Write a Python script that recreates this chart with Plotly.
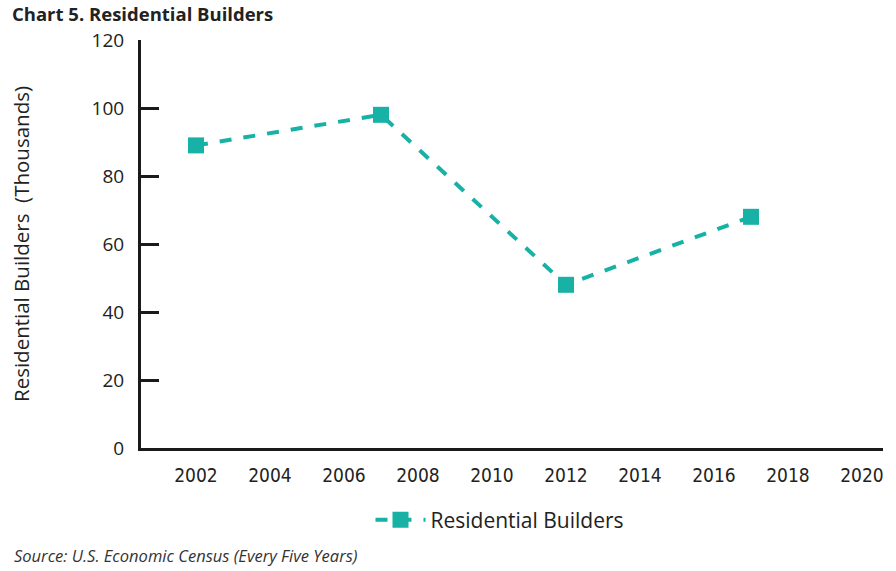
import plotly.graph_objects as go

years = [2002, 2007, 2012, 2017]
builders = [89, 98, 48, 68]
x_ticks = [2002, 2004, 2006, 2008, 2010, 2012, 2014, 2016, 2018, 2020]
y_ticks = [0, 20, 40, 60, 80, 100, 120]

teal = "#17B1A6"
W, H = 896, 571
L, R, T, B = 141, 13, 40, 123
pw, ph = W - L - R, H - T - B
FONT = "Open Sans"

fig = go.Figure()
fig.add_trace(go.Scatter(
    x=years, y=builders, mode="lines+markers", name="Residential Builders",
    line=dict(color=teal, width=4, dash="dash"),
    marker=dict(symbol="square", size=16, color=teal),
))

fig.update_layout(
    width=W, height=H,
    margin=dict(l=L, r=R, t=T, b=B),
    plot_bgcolor="white", paper_bgcolor="white",
    showlegend=True,
    legend=dict(orientation="h", x=(500 - L) / pw, xanchor="center",
                y=(H - B - 520) / ph, yanchor="middle", itemwidth=50,
                font=dict(family=FONT, size=21, color="#222")),
    title=dict(text="<b>Chart 5. Residential Builders</b>", x=12 / W, xanchor="left",
               y=1 - 15 / H, yanchor="middle",
               font=dict(family=FONT, size=18.5, color="#222")),
    xaxis=dict(range=[2002 - 55 / 37, 2002 + 687 / 37], tickvals=x_ticks,
               showgrid=False, zeroline=False, showline=True, linecolor="#1a1a1a",
               linewidth=3, ticks="", ticklabelstandoff=8,
               tickfont=dict(family="Liberation Sans Narrow, DejaVu Sans Condensed, Roboto",
                             size=19, color="#222")),
    yaxis=dict(range=[0, 120], tickvals=y_ticks, showgrid=False, zeroline=False,
               showline=True, linecolor="#1a1a1a", linewidth=3,
               ticks="inside", ticklen=18, tickwidth=3, tickcolor="#1a1a1a",
               ticklabelstandoff=10,
               tickfont=dict(family=FONT, size=19, color="#222")),
)

fig.add_annotation(text="Residential Builders  (Thousands)", textangle=-90,
                   xref="paper", yref="paper", x=(5 - L) / pw, y=0.5,
                   showarrow=False, font=dict(family=FONT, size=20.5, color="#222"))
fig.add_annotation(text="<i>Source: U.S. Economic Census (Every Five Years)</i>",
                   xref="paper", yref="paper", x=(12 - L) / pw, xanchor="left",
                   y=(H - B - 555) / ph, yanchor="middle", showarrow=False,
                   font=dict(family=FONT, size=16.5, color="#333"))

fig.write_html("out.html")
